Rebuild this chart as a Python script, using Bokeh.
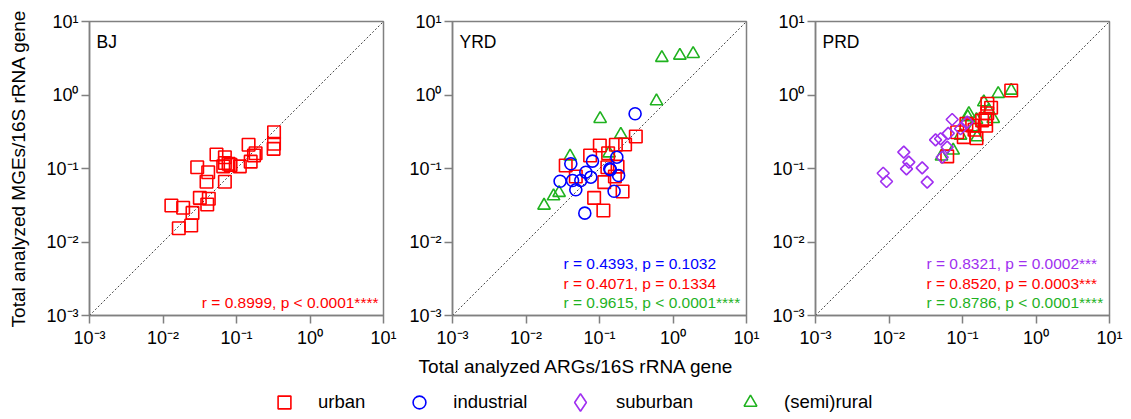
import math
from bokeh.plotting import figure
from bokeh.models import Range1d, FixedTicker, Label, Legend, LegendItem
from bokeh.layouts import column, row
from bokeh.embed import file_html
from bokeh.resources import INLINE

FONT = "Liberation Sans"
RED = "#FF0000"
BLUE = "#0000FF"
PURPLE = "#A030F0"
GREEN = "#1FB21F"
AXIS = "#808080"

# ---------------- data ----------------
ticks = [1e-3, 1e-2, 1e-1, 1e0, 1e1]
tick_labels = ["10\u207b\u00b3", "10\u207b\u00b2", "10\u207b\u00b9", "10\u2070", "10\u00b9"]
diag = [1e-3, 1e1]

panel_names = ["BJ", "YRD", "PRD"]
categories = ["urban", "industrial", "suburban", "(semi)rural"]

bj_urban_x = [0.324, 0.324, 0.320, 0.146, 0.182, 0.173, 0.156, 0.0534, 0.0695, 0.0695, 0.078, 0.066, 0.083,
              0.111, 0.0292, 0.0412, 0.0391, 0.0695, 0.0317, 0.042, 0.040, 0.0130, 0.0188, 0.0252, 0.0164, 0.0242]
bj_urban_y = [0.312, 0.217, 0.185, 0.210, 0.161, 0.150, 0.124, 0.155, 0.1425, 0.119, 0.116, 0.107, 0.112,
              0.107, 0.104, 0.0891, 0.0659, 0.0659, 0.0399, 0.0387, 0.0324, 0.0314, 0.0292, 0.0249, 0.0154, 0.0168]

yrd_rural_x = [0.705, 1.24, 1.88, 0.596, 0.102, 0.195, 0.135, 0.0398, 0.0282, 0.0237, 0.0176]
yrd_rural_y = [3.21, 3.44, 3.63, 0.824, 0.474, 0.290, 0.161, 0.146, 0.0467, 0.042, 0.0314]
yrd_urban_x = [0.312, 0.223, 0.167, 0.101, 0.0745, 0.131, 0.0347, 0.176, 0.128, 0.0476, 0.162, 0.116,
               0.206, 0.0845, 0.113]
yrd_urban_y = [0.272, 0.212, 0.210, 0.206, 0.150, 0.161, 0.110, 0.106, 0.104, 0.0778, 0.0778, 0.0652,
               0.0486, 0.0399, 0.0268]
yrd_ind_x = [0.305, 0.0407, 0.0803, 0.172, 0.138, 0.141, 0.0652, 0.0762, 0.182, 0.0291, 0.043, 0.0557,
             0.0476, 0.158, 0.0631]
yrd_ind_y = [0.555, 0.116, 0.126, 0.1425, 0.099, 0.096, 0.0891, 0.0762, 0.0803, 0.0671, 0.0687, 0.0687,
             0.0513, 0.0491, 0.0247]

prd_rural_x = [0.460, 0.306, 0.195, 0.228, 0.262, 0.118, 0.155, 0.1425, 0.094, 0.158, 0.0747, 0.0518, 0.122]
prd_rural_y = [1.15, 1.04, 0.798, 0.615, 0.474, 0.499, 0.459, 0.365, 0.281, 0.267, 0.176, 0.146, 0.555]
prd_urban_x = [0.460, 0.218, 0.245, 0.217, 0.206, 0.210, 0.113, 0.1355, 0.1457, 0.0847, 0.104, 0.155,
               0.185, 0.062]
prd_urban_y = [1.15, 0.759, 0.670, 0.565, 0.474, 0.381, 0.405, 0.385, 0.336, 0.312, 0.267, 0.258,
               0.450, 0.146]
prd_sub_x = [0.00834, 0.00925, 0.0159, 0.0186, 0.0173, 0.0283, 0.0331, 0.043, 0.0503, 0.0619, 0.053,
             0.0724, 0.064, 0.094, 0.116]
prd_sub_y = [0.0863, 0.0665, 0.1668, 0.122, 0.099, 0.102, 0.0652, 0.2455, 0.2535, 0.195, 0.1425,
             0.464, 0.30, 0.347, 0.427]

bj_stats = ["r = 0.8999, p < 0.0001****"]
yrd_stats = ["r = 0.4393, p = 0.1032", "r = 0.4071, p = 0.1334", "r = 0.9615, p < 0.0001****"]
prd_stats = ["r = 0.8321, p = 0.0002***", "r = 0.8520, p = 0.0003***", "r = 0.8786, p < 0.0001****"]

x_title = "Total analyzed ARGs/16S rRNA gene"
y_title = "Total analyzed MGEs/16S rRNA gene"

ROW_H = 353


def make_panel(name, width, left, right):
    p = figure(width=width, height=ROW_H, x_axis_type="log", y_axis_type="log",
               x_range=Range1d(1e-3, 1e1), y_range=Range1d(1e-3, 1e1),
               min_border_left=left, min_border_right=right, min_border_top=21,
               min_border_bottom=38, output_backend="svg", toolbar_location=None)
    p.grid.visible = False
    p.outline_line_color = AXIS
    p.outline_line_width = 1.5
    p.background_fill_color = "white"
    p.border_fill_color = "white"
    overrides = {t: lab for t, lab in zip(ticks, tick_labels)}
    for ax in (p.xaxis[0], p.yaxis[0]):
        ax.ticker = FixedTicker(ticks=ticks, minor_ticks=[])
        ax.major_label_overrides = overrides
        ax.major_label_text_font = FONT
        ax.major_label_text_font_size = "18px"
        ax.major_label_text_color = "black"
        ax.axis_line_color = AXIS
        ax.axis_line_width = 1.5
        ax.major_tick_line_color = AXIS
        ax.major_tick_line_width = 1.5
        ax.major_tick_out = 8
        ax.major_tick_in = 0
        ax.minor_tick_out = 0
        ax.minor_tick_in = 0
    p.xaxis[0].major_label_standoff = 4
    p.yaxis[0].major_label_standoff = 3
    p.add_layout(Label(x=1e-3, y=1e1, x_offset=7, y_offset=-20, text=name, text_align="left",
                       text_baseline="middle", text_font=FONT, text_font_size="17.5px", text_color="black"))
    p.line(diag, diag, line_color="#444444", line_width=1, line_dash="2 2")
    return p


def stats_block(p, texts, colors, right_aligned=False):
    offs = [13, 32.5, 52][:len(texts)][::-1]
    for txt, col, off in zip(texts, colors, offs):
        if right_aligned:
            p.add_layout(Label(x=1e1, y=1e-3, x_offset=-5, y_offset=off, text=txt, text_align="right",
                               text_baseline="middle", text_font=FONT, text_font_size="15.5px",
                               text_color=col))
        else:
            p.add_layout(Label(x=1e1, y=1e-3, x_offset=-183, y_offset=off, text=txt, text_align="left",
                               text_baseline="middle", text_font=FONT, text_font_size="15.5px",
                               text_color=col))


def squares(p, x, y):
    return p.scatter(x, y, marker="square", size=12.5, line_color=RED, fill_color=None, line_width=1.6)


def circles(p, x, y):
    return p.scatter(x, y, marker="circle", size=12, line_color=BLUE, fill_color=None, line_width=1.6)


def diamonds(p, x, y):
    return p.scatter(x, y, marker="square", angle=math.pi / 4, size=8.5, line_color=PURPLE,
                     fill_color=None, line_width=1.6)


def triangles(p, x, y):
    return p.scatter(x, y, marker="triangle", size=12.5, line_color=GREEN, fill_color=None, line_width=1.6)


# BJ
f1 = make_panel(panel_names[0], 405, 89, 22)
squares(f1, bj_urban_x, bj_urban_y)
stats_block(f1, bj_stats, [RED], right_aligned=True)
f1.yaxis[0].axis_label = y_title
f1.yaxis[0].axis_label_text_font = FONT
f1.yaxis[0].axis_label_text_font_size = "19px"
f1.yaxis[0].axis_label_text_font_style = "normal"
f1.yaxis[0].axis_label_text_color = "black"
f1.yaxis[0].axis_label_standoff = 14

# YRD
f2 = make_panel(panel_names[1], 360, 47, 19)
triangles(f2, yrd_rural_x, yrd_rural_y)
squares(f2, yrd_urban_x, yrd_urban_y)
circles(f2, yrd_ind_x, yrd_ind_y)
stats_block(f2, yrd_stats, [BLUE, RED, GREEN])

# PRD
f3 = make_panel(panel_names[2], 366, 50, 22)
triangles(f3, prd_rural_x, prd_rural_y)
squares(f3, prd_urban_x, prd_urban_y)
diamonds(f3, prd_sub_x, prd_sub_y)
stats_block(f3, prd_stats, [PURPLE, RED, GREEN])

# Bottom strip: shared x title + legend
LF_W, LF_H = 1131, 66
lf = figure(width=LF_W, height=LF_H, x_range=Range1d(0, LF_W), y_range=Range1d(0, LF_H), min_border=0,
            x_axis_location=None, y_axis_location=None, output_backend="svg", toolbar_location=None)
lf.grid.visible = False
lf.outline_line_color = None
lf.add_layout(Label(x=576, y=53, text=x_title, text_align="center", text_baseline="middle",
                    text_font=FONT, text_font_size="19px", text_color="black"))
nan = [math.nan]
r_u = lf.scatter(nan, nan, marker="square", line_color=RED, fill_color=None, line_width=1.6)
r_i = lf.scatter(nan, nan, marker="circle", line_color=BLUE, fill_color=None, line_width=1.6)
r_s = lf.scatter(nan, nan, marker="diamond", line_color=PURPLE, fill_color=None, line_width=1.6)
r_r = lf.scatter(nan, nan, marker="triangle", line_color=GREEN, fill_color=None, line_width=1.6)


def add_legend(labels, renderers, loc, box, standoff):
    lg = Legend(items=[LegendItem(label=c, renderers=[r]) for c, r in zip(labels, renderers)],
                orientation="horizontal", location=loc, glyph_width=box, glyph_height=box,
                label_standoff=standoff, spacing=38, padding=0, margin=0, border_line_color=None,
                background_fill_alpha=0, label_text_font=FONT, label_text_font_size="18.5px",
                label_text_color="black")
    lf.add_layout(lg, "center")


add_legend(categories[:2], [r_u, r_i], (268, 1), 32, 18)
add_legend(categories[2:3], [r_s], (558, -5), 44, 14)
add_legend(categories[3:], [r_r], (734, 1), 32, 18)

layout = column(row(f1, f2, f3), lf)
open("out.html", "w").write(file_html(layout, INLINE))
